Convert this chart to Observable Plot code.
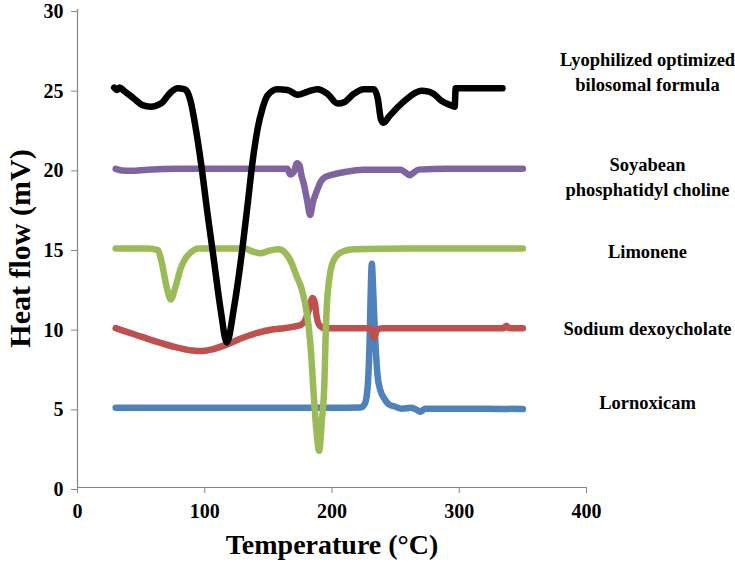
<!DOCTYPE html>
<html>
<head>
<meta charset="utf-8">
<script src="https://cdn.jsdelivr.net/npm/d3@7"></script>
<script src="https://cdn.jsdelivr.net/npm/@observablehq/plot@0.6"></script>
<style>
  html, body { margin: 0; padding: 0; background: #fff; }
  #chart svg, #chart svg text { font-family: "Liberation Serif", "Times New Roman", serif; }
</style>
</head>
<body>
<div id="chart"></div>
<script>
// ---- Data ----
const seriesNames = [
  "Lyophilized optimized\nbilosomal formula",
  "Soyabean\nphosphatidyl choline",
  "Limonene",
  "Sodium dexoycholate",
  "Lornoxicam"
];
const seriesColors = ["#000000", "#8064A2", "#9BBB59", "#C0504D", "#4F81BD"];
const labelLevels = [26.2, 19.6, 14.9, 10.05, 5.45];

const xTicks = [0, 100, 200, 300, 400];
const yTicks = [0, 5, 10, 15, 20, 25, 30];

// Lyophilized optimized bilosomal formula (black)
const lyoT  = [28.8, 31, 33, 36.6, 44.5, 51, 57.6, 65.5, 73.3, 78.6, 83.8, 86.5, 89, 93, 97, 102, 107.3, 112.6, 117.3, 123, 128.3, 133.6, 137.5, 141.5, 145.4, 149.3, 157, 165, 173, 181, 188.6, 196.5, 204.3, 210, 217, 225, 233, 236, 238.5, 240.5, 245, 252, 259, 265, 270, 276, 280, 285.5, 293, 296.4, 297.2, 310, 334];
const lyoHF = [25.1, 24.95, 25.1, 24.9, 24.4, 24.0, 23.9, 24.1, 24.8, 25.05, 25.0, 24.8, 24.2, 22.5, 20.4, 17.3, 14.2, 11.1, 9.1, 11.3, 14.2, 17.7, 20.4, 22.5, 23.8, 24.6, 25.0, 24.95, 24.65, 24.85, 25.0, 24.7, 24.1, 24.2, 24.7, 25.0, 25.0, 24.4, 23.1, 22.9, 23.3, 23.9, 24.4, 24.75, 24.9, 24.85, 24.7, 24.3, 24.0, 23.9, 25.05, 25.05, 25.05];

// Soyabean phosphatidyl choline (purple)
const soyT  = [30, 35, 42, 55, 80, 120, 160, 165, 167, 170, 172.5, 174.5, 176, 178, 180.5, 182.8, 185, 188, 191.2, 195, 199, 210, 225, 254, 258, 261, 264, 268, 290, 320, 350];
const soyHF = [20.0, 19.9, 19.88, 19.95, 20.0, 20.0, 20.0, 20.0, 19.65, 19.8, 20.35, 20.2, 19.6, 19.0, 18.0, 17.1, 17.9, 18.6, 19.2, 19.5, 19.6, 19.8, 19.95, 19.95, 19.75, 19.6, 19.75, 19.95, 20.0, 20.0, 20.0];

// Limonene (green)
const limT  = [30, 40, 55, 63, 66, 70, 73.3, 77, 81.3, 85, 89, 95, 110, 131, 138, 144, 150, 158, 163, 167.6, 172, 176, 179, 181.5, 183.5, 185.5, 187.5, 189.9, 192, 194, 195, 196, 197.7, 200, 204.3, 210, 217, 260, 350];
const limHF = [15.0, 15.0, 15.0, 14.9, 14.2, 12.6, 11.8, 12.6, 13.8, 14.4, 14.75, 15.0, 15.0, 15.0, 14.8, 14.7, 14.85, 14.95, 14.75, 14.2, 13.3, 12.5, 11.5, 10.2, 8.5, 6.0, 3.8, 2.3, 4.2, 6.5, 9.5, 11.5, 13.0, 14.0, 14.6, 14.85, 14.95, 15.0, 15.0];

// Sodium dexoycholate (red)
const sodT  = [30, 45, 60, 75, 90, 97, 105, 118, 130, 141.4, 152, 162.4, 170, 175.5, 179, 182, 184.7, 186.5, 188, 190, 194, 200, 230.5, 233, 235.5, 240, 300, 335, 337, 339, 350];
const sodHF = [10.0, 9.6, 9.2, 8.85, 8.6, 8.56, 8.65, 9.0, 9.4, 9.7, 9.9, 10.0, 10.1, 10.2, 10.5, 11.2, 11.9, 11.6, 10.7, 10.2, 10.0, 10.0, 10.0, 9.4, 9.9, 10.0, 10.0, 10.0, 10.15, 10.0, 10.0];

// Lornoxicam (blue)
const lorT  = [30, 100, 200, 222.6, 226, 228, 229.5, 230.5, 231.3, 232.3, 233.3, 235.7, 238, 241, 245, 248.8, 255, 262, 266, 269.8, 273, 290, 320, 350];
const lorHF = [5.0, 5.0, 5.0, 5.02, 5.3, 6.3, 9.0, 12.5, 14.05, 12.5, 10.5, 7.1, 6.1, 5.6, 5.2, 5.1, 4.95, 5.0, 4.9, 4.75, 4.95, 4.95, 4.95, 4.92];

// ---- Build table ----
const seriesT  = [lyoT, soyT, limT, sodT, lorT];
const seriesHF = [lyoHF, soyHF, limHF, sodHF, lorHF];
const rows = [];
seriesNames.forEach((name, i) => {
  d3.zip(seriesT[i], seriesHF[i]).forEach(([t, hf]) => rows.push({series: name, T: t, HF: hf}));
});
// drawing order: blue, red, green, purple, black (black on top)
const drawOrder = [4, 3, 2, 1, 0];
const labels = seriesNames.map((name, i) => ({name, level: labelLevels[i]}));

const font = '"Liberation Serif", "Times New Roman", serif';

const chart = Plot.plot({
  width: 735,
  height: 568,
  marginLeft: 77,
  marginRight: 149,
  marginTop: 9,
  marginBottom: 81,
  style: {fontFamily: font, background: "#fff", overflow: "visible"},
  x: {domain: [0, 400]},
  y: {domain: [0, 30]},
  marks: [
    Plot.ruleX([0], {stroke: "#868686", strokeWidth: 1.2}),
    Plot.ruleY([0], {stroke: "#868686", strokeWidth: 1.2}),
    Plot.axisX({ticks: xTicks, tickSize: 6, tickPadding: 10, stroke: "#868686", label: null,
                fontSize: 20, fontWeight: "bold", fill: "#000", fontFamily: font, tickFormat: d => d}),
    Plot.axisY({ticks: yTicks, tickSize: 6, tickPadding: 8, stroke: "#868686", label: null, dy: 2,
                fontSize: 20, fontWeight: "bold", fill: "#000", fontFamily: font, tickFormat: d => d}),
    ...drawOrder.map(i => Plot.line(rows.filter(r => r.series === seriesNames[i]), {
      x: "T", y: "HF", stroke: seriesColors[i], strokeWidth: 6.5,
      strokeLinecap: "round", strokeLinejoin: "round", curve: "monotone-x"
    })),
    Plot.text(labels, {
      text: "name", y: "level", frameAnchor: "right", dx: 61,
      textAnchor: "middle", lineHeight: 1.35, fontSize: 18.5, fontWeight: "bold",
      fill: "#000", fontFamily: font
    }),
    Plot.text(["Heat flow (mV)"], {
      frameAnchor: "left", dx: -57, rotate: -90, textAnchor: "middle",
      fontSize: 30, fontWeight: "bold", fill: "#000", fontFamily: font
    }),
    Plot.text(["Temperature (°C)"], {
      frameAnchor: "bottom", dy: 66, textAnchor: "middle",
      fontSize: 28, fontWeight: "bold", fill: "#000", fontFamily: font
    })
  ]
});
document.getElementById("chart").appendChild(chart);
</script>
</body>
</html>
